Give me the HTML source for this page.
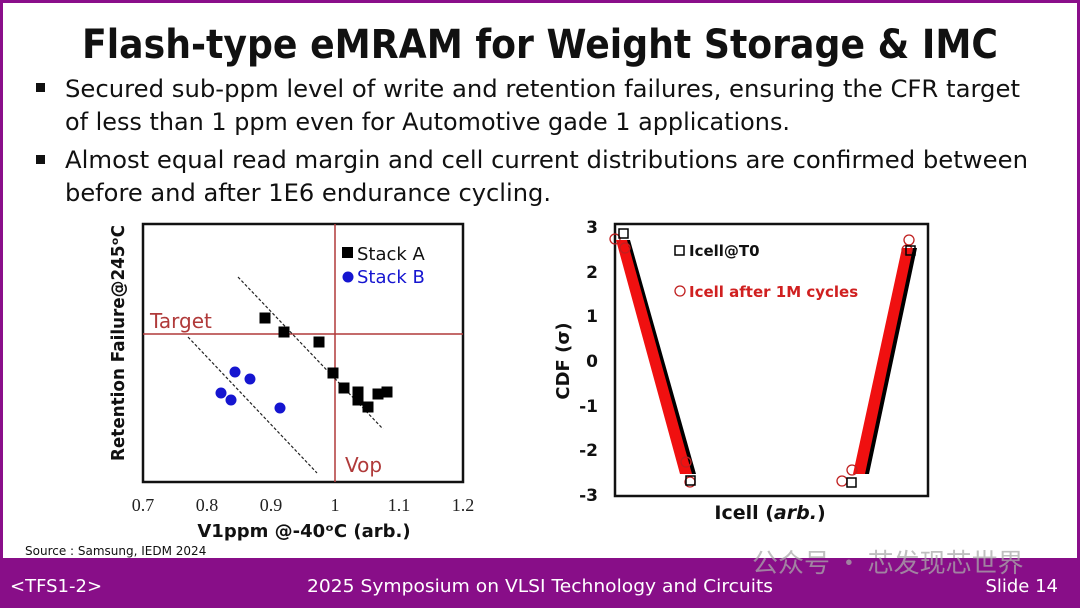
<!DOCTYPE html>
<html><head><meta charset="utf-8"><style>
html,body{margin:0;padding:0;background:#fff}
svg{display:block}
</style></head><body>
<svg width="1080" height="608" viewBox="0 0 1080 608" xmlns="http://www.w3.org/2000/svg" font-family="'DejaVu Sans','Liberation Sans',sans-serif">
<rect x="0" y="0" width="1080" height="608" fill="#fff"/>
<rect x="1.5" y="1.5" width="1077" height="600" fill="none" stroke="#8a0e8a" stroke-width="3"/>
<rect x="0" y="558" width="1080" height="50" fill="#880e88"/>

<text x="540" y="58" text-anchor="middle" font-size="40" font-weight="bold" fill="#111" textLength="916" lengthAdjust="spacingAndGlyphs">Flash-type eMRAM for Weight Storage &amp; IMC</text>

<g font-size="24" fill="#111">
<rect x="36" y="83" width="9" height="9" fill="#111"/>
<text x="65" y="97" textLength="955" lengthAdjust="spacingAndGlyphs">Secured sub-ppm level of write and retention failures, ensuring the CFR target</text>
<text x="65" y="130" textLength="725" lengthAdjust="spacingAndGlyphs">of less than 1 ppm even for Automotive gade 1 applications.</text>
<rect x="36" y="155" width="9" height="9" fill="#111"/>
<text x="65" y="168" textLength="963" lengthAdjust="spacingAndGlyphs">Almost equal read margin and cell current distributions are confirmed between</text>
<text x="65" y="201" textLength="486" lengthAdjust="spacingAndGlyphs">before and after 1E6 endurance cycling.</text>
</g>

<!-- Left chart -->
<rect x="143" y="224" width="320" height="258" fill="#fff" stroke="#111" stroke-width="2.5"/>
<line x1="335" y1="224" x2="335" y2="482" stroke="#b03a3a" stroke-width="1.5"/>
<line x1="143" y1="334" x2="463" y2="334" stroke="#b03a3a" stroke-width="1.5"/>
<line x1="238" y1="277" x2="383" y2="429" stroke="#222" stroke-width="1.2" stroke-dasharray="3,2"/>
<line x1="188" y1="337" x2="317" y2="473" stroke="#222" stroke-width="1.2" stroke-dasharray="3,2"/>
<text x="150" y="328" font-size="20" fill="#b03a3a">Target</text>
<text x="345" y="472" font-size="20" fill="#b03a3a">Vop</text>
<g fill="#000">
<rect x="259.5" y="312.5" width="11" height="11"/><rect x="278.5" y="326.5" width="11" height="11"/>
<rect x="313.5" y="336.5" width="11" height="11"/><rect x="327.5" y="367.5" width="11" height="11"/>
<rect x="338.5" y="382.5" width="11" height="11"/><rect x="352.5" y="386.5" width="11" height="11"/>
<rect x="352.5" y="394.5" width="11" height="11"/><rect x="362.5" y="401.5" width="11" height="11"/>
<rect x="372.5" y="388.5" width="11" height="11"/><rect x="381.5" y="386.5" width="11" height="11"/>
<rect x="342" y="247" width="11" height="11"/>
</g>
<g fill="#1515d0">
<circle cx="235" cy="372" r="5.5"/><circle cx="250" cy="379" r="5.5"/><circle cx="221" cy="393" r="5.5"/>
<circle cx="231" cy="400" r="5.5"/><circle cx="280" cy="408" r="5.5"/><circle cx="348" cy="277" r="5.5"/>
</g>
<text x="357" y="260" font-size="18" fill="#111">Stack A</text>
<text x="357" y="283" font-size="18" fill="#1515d0">Stack B</text>
<g font-family="'Liberation Serif',serif" font-size="18" fill="#222" text-anchor="middle">
<text x="143" y="511">0.7</text><text x="207" y="511">0.8</text><text x="271" y="511">0.9</text>
<text x="335" y="511">1</text><text x="399" y="511">1.1</text><text x="463" y="511">1.2</text>
</g>
<text x="304" y="537" font-size="18" font-weight="bold" text-anchor="middle" fill="#111">V1ppm @-40ᵒC (arb.)</text>
<text transform="translate(124,343) rotate(-90)" font-size="18" font-weight="bold" text-anchor="middle" fill="#111" textLength="236" lengthAdjust="spacingAndGlyphs">Retention Failure@245ᵒC</text>

<!-- Right chart -->
<rect x="615" y="224" width="313" height="272" fill="#fff" stroke="#111" stroke-width="2.5"/>
<g font-size="17" font-weight="bold" fill="#111" text-anchor="end">
<text x="598" y="233">3</text><text x="598" y="278">2</text><text x="598" y="322">1</text>
<text x="598" y="367">0</text><text x="598" y="412">-1</text><text x="598" y="456">-2</text><text x="598" y="501">-3</text>
</g>
<text transform="translate(569,361) rotate(-90)" font-size="18" font-weight="bold" text-anchor="middle" fill="#111">CDF (σ)</text>
<text x="770" y="519" font-size="19" font-weight="bold" text-anchor="middle" fill="#111">Icell (<tspan font-style="italic">arb.</tspan>)</text>
<!-- left band -->
<polygon points="620,240 630,240 696,474 683,474" fill="#000"/>
<polygon points="616,240 627,240 692,474 680,474" fill="#f01010"/>
<!-- right band -->
<polygon points="857,474 869,474 917,248 907,248" fill="#000"/>
<polygon points="853,474 865,474 913,248 902,248" fill="#f01010"/>
<g fill="none" stroke="#c02020" stroke-width="1.3">
<circle cx="615" cy="239" r="5"/><circle cx="625" cy="248" r="5"/><circle cx="686" cy="462" r="5"/><circle cx="690" cy="482" r="5"/>
<circle cx="842" cy="481" r="5"/><circle cx="852" cy="470" r="5"/><circle cx="909" cy="240" r="5"/><circle cx="907" cy="250" r="5"/>
</g>
<g fill="none" stroke="#000" stroke-width="1.5">
<rect x="619" y="229" width="9" height="9"/><rect x="686" y="476" width="9" height="9"/>
<rect x="847" y="478" width="9" height="9"/><rect x="906" y="246" width="9" height="9"/>
<rect x="675" y="246" width="9" height="9"/>
</g>
<circle cx="680" cy="291" r="5" fill="none" stroke="#c02020" stroke-width="1.3"/>
<text x="689" y="256" font-size="15" font-weight="bold" fill="#111">Icell@T0</text>
<text x="689" y="297" font-size="15" font-weight="bold" fill="#d02020">Icell after 1M cycles</text>

<text x="25" y="555" font-size="12" fill="#111">Source : Samsung, IEDM 2024</text>
<text x="752" y="572" font-family="'Noto Sans CJK SC',sans-serif" font-size="26" fill="#aaa" fill-opacity="0.75">公众号 · 芯发现芯世界</text>
<g font-size="18" fill="#fff">
<text x="10" y="592">&lt;TFS1-2&gt;</text>
<text x="540" y="592" text-anchor="middle" textLength="466" lengthAdjust="spacingAndGlyphs">2025 Symposium on VLSI Technology and Circuits</text>
<text x="1058" y="592" text-anchor="end">Slide 14</text>
</g>
</svg>
</body></html>
